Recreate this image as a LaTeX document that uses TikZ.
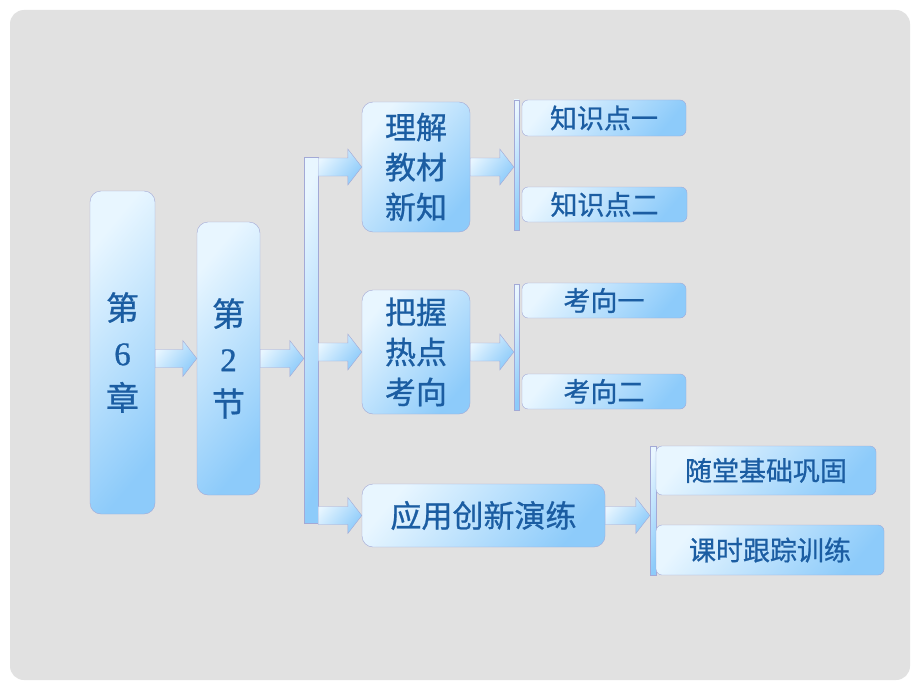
\documentclass[tikz,border=0pt]{standalone}
\usepackage{fontspec}
\newfontfamily\cjk[FakeBold=0.8]{Noto Sans CJK SC}
\newfontfamily\numfont[FakeBold=0.8]{Liberation Serif}
\usepackage{tikz}
\usetikzlibrary{calc}
\definecolor{slide}{HTML}{E1E1E1}
\definecolor{boxlight}{HTML}{E8F6FF}
\definecolor{boxdark}{HTML}{8DCBFA}
\definecolor{boxline}{HTML}{A3A9D6}
\definecolor{txtblue}{HTML}{1B5DA2}
\newcommand{\bigfont}{\cjk\fontsize{31}{40}\selectfont}
\newcommand{\smallfont}{\cjk\fontsize{27}{32}\selectfont}

\tikzset{
  box/.style={draw=boxline, top color=boxlight, bottom color=boxdark, shading angle=50,
    text=txtblue, align=center, inner sep=0pt, rounded corners=11pt},
  tag/.style={box, rounded corners=6pt, font=\smallfont},
  bar/.style={draw=boxline, top color=boxlight, bottom color=boxdark, shading angle=70,
    inner sep=0pt, minimum width=#1},
  fatarrow/.style={draw=boxline, top color=boxlight, bottom color=boxdark, shading angle=50,
    to path={let \p1=(\tikztostart), \p2=(\tikztotarget) in
      (\x1,\y1+9pt) -- (\x2-14pt,\y1+9pt) -- (\x2-14pt,\y1+18pt) -- (\x2,\y1)
      -- (\x2-14pt,\y1-18pt) -- (\x2-14pt,\y1-9pt) -- (\x1,\y1-9pt) -- cycle}},
}

\begin{document}
\begin{tikzpicture}[x=1pt, y=-1pt]

    % fond
    \useasboundingbox (0,0) rectangle (920,690);
    \fill[white] (0,0) rectangle (920,690);
    \fill[slide, rounded corners=14pt] (10,10) rectangle (910,680);

    \node[box, minimum width=65, minimum height=323, font=\cjk\fontsize{33}{45}\selectfont] (ch) at (122.5, 352.5) {第\\{\numfont 6}\\章};
    \node[box, minimum width=63, minimum height=273, font=\cjk\fontsize{33}{45}\selectfont] (sec) at (228.5, 358.5) {第\\{\numfont 2}\\节};

    \node[bar=14, minimum height=366] (bar) at (311, 340) {};

    \node[box, minimum width=108, minimum height=130, font=\bigfont] (lj) at (416, 167) {理解\\教材\\新知};
    \node[box, minimum width=108, minimum height=124, font=\bigfont] (bw) at (416, 352) {把握\\热点\\考向};
    \node[box, minimum width=243, minimum height=63, font=\bigfont] (yy) at (483.5, 515.5) {应用创新演练};

    \node[bar=5, minimum height=130] (bar1) at (516.5, 165) {};
    \node[bar=5, minimum height=126] (bar2) at (516.5, 347) {};
    \node[bar=6, minimum height=129] (bar3) at (653, 510.5) {};

    \node[tag, minimum width=164, minimum height=36] (zs1) at (604, 118) {知识点一};
    \node[tag, minimum width=165, minimum height=35] (zs2) at (604.5, 204.5) {知识点二};
    \node[tag, minimum width=164, minimum height=35] (kx1) at (604, 300.5) {考向一};
    \node[tag, minimum width=164, minimum height=35] (kx2) at (604, 391.5) {考向二};
    \node[tag, minimum width=220, minimum height=49] (st) at (766, 470.5) {随堂基础巩固};
    \node[tag, minimum width=228, minimum height=50] (ks) at (770, 550) {课时跟踪训练};

    % fleches
    \path[fatarrow] (ch.east |- sec.west) to (sec.west);
    \path[fatarrow] (sec.east) to (bar.west |- sec.east);
    \path[fatarrow] (bar.east |- lj.west) to (lj.west);
    \path[fatarrow] (bar.east |- bw.west) to (bw.west);
    \path[fatarrow] (bar.east |- yy.west) to (yy.west);
    \path[fatarrow] (lj.east) to (bar1.west |- lj.east);
    \path[fatarrow] (bw.east) to (bar2.west |- bw.east);
    \path[fatarrow] (yy.east) to (bar3.west |- yy.east);

  \end{tikzpicture}
\end{document}
